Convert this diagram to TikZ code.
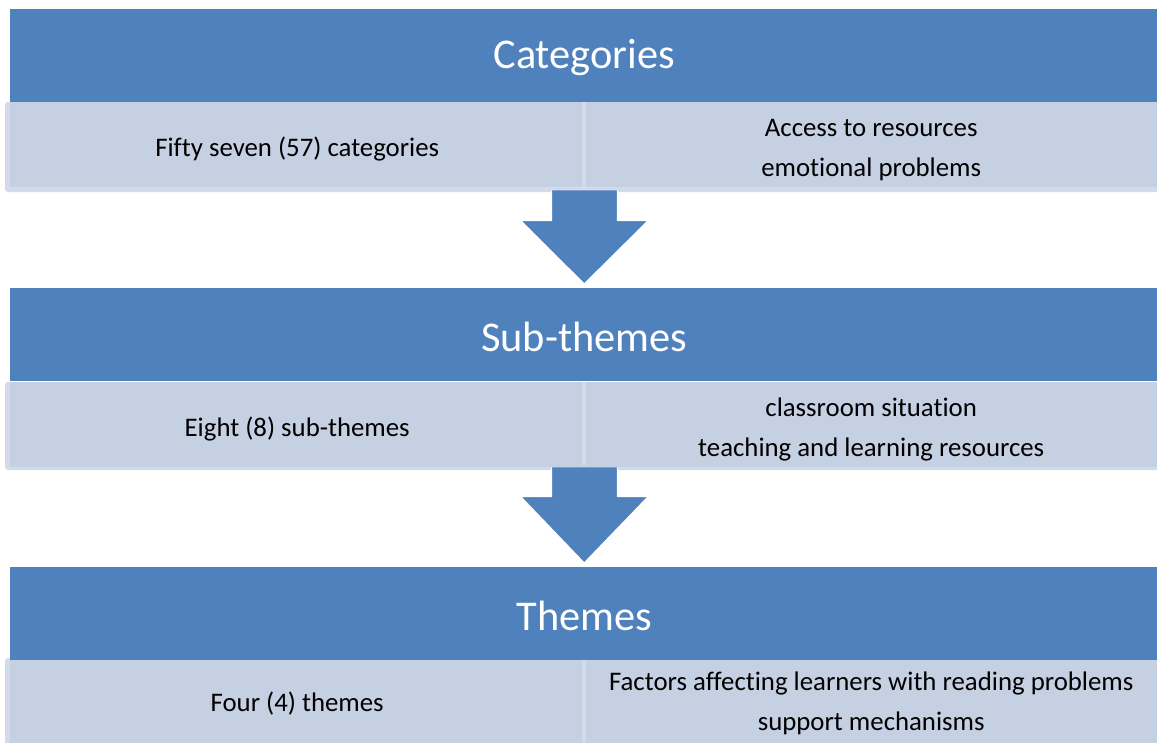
\documentclass[tikz,border=0pt]{standalone}
\usepackage{fontspec}
\setmainfont{Carlito}
\newfontfamily\bodyfont[Ligatures=CommonOff]{Carlito}
\usetikzlibrary{calc}
\definecolor{hdrblue}{HTML}{4F81BD}
\definecolor{paneblue}{HTML}{C5D0E3}
\definecolor{paneedge}{HTML}{D3DBEA}
\tikzset{
  header/.style={fill=hdrblue, anchor=north west, inner sep=0pt,
    minimum width=1148pt, minimum height=93pt},
  headtext/.style={text=white, inner sep=0pt, font={\fontsize{42.4}{50}\selectfont}},
  pane/.style={fill=paneblue, anchor=north west, inner sep=0pt,
    minimum width=574pt, minimum height=85pt},
  panetext/.style={inner sep=0pt, align=center,
    font={\bodyfont\fontsize{26.8}{40}\selectfont}},
  panebg/.style={fill=paneedge, rounded corners=3pt},
  divider/.style={fill=paneedge},
  downarrow/.style={fill=hdrblue, draw=white, line width=1.2pt, line join=miter}
}
\begin{document}
\begin{tikzpicture}[x=1pt, y=-1pt]
  \useasboundingbox (0,0) rectangle (1157,742);
  \fill[white] (0,0) rectangle (1157,742);

  % --- Categories ---
  \fill[panebg] (5,102) rectangle (1170,192);
  \node[pane] (cl) at (10,102) {};
  \node[pane] (cr) at (584,102) {};
  \fill[divider] (582,102) rectangle (586,187);
  \node[header] (cat) at (10,9) {};
  \node[headtext] (catt) at ($(cat.center)+(0,2)$) {Categories};
  \node[panetext] (clt) at ($(cl.center)+(0,4)$) {Fifty seven (57) categories};
  \node[panetext] (crt) at ($(cr.center)+(0,5)$) {Access to resources\\emotional problems};

  % --- Sub-themes ---
  \fill[panebg] (5,382) rectangle (1170,470);
  \node[pane] (sl) at (10,382) {};
  \node[pane] (sr) at (584,382) {};
  \fill[divider] (582,382) rectangle (586,465);
  \node[header] (sub) at (10,288) {};
  \node[headtext] (subt) at ($(sub.center)+(0,2)$) {Sub-themes};
  \node[panetext] (slt) at ($(sl.center)+(0,4)$) {Eight (8) sub-themes};
  \node[panetext] (srt) at ($(sr.center)+(0,5)$) {classroom situation\\teaching and learning resources};

  % --- Themes ---
  \fill[panebg] (5,658) rectangle (1170,748);
  \node[pane] (tl) at (10,658) {};
  \node[pane] (tr) at (584,658) {};
  \fill[divider] (582,658) rectangle (586,743);
  \node[header] (thm) at (10,567) {};
  \node[headtext] (thmt) at ($(thm.center)+(0,2)$) {Themes};
  \node[panetext] (tlt) at ($(tl.center)+(0,3)$) {Four (4) themes};
  \node[panetext] (trt) at ($(tr.center)+(0,3)$) {Factors affecting learners with reading problems\\support mechanisms};

  % block arrows between stages
  \coordinate (a1) at ($(cl.south east)+(0,3)$);
  \coordinate (t1) at ($(sub.north)+(0,-4)$);
  \filldraw[downarrow] ($(a1)+(-33,0)$) -- ($(a1)+(-33,30)$) -- ($(a1)+(-64,30)$)
    -- (t1) -- ($(a1)+(64,30)$) -- ($(a1)+(33,30)$) -- ($(a1)+(33,0)$);

  \coordinate (a2) at ($(sl.south east)+(0,0)$);
  \coordinate (t2) at ($(thm.north)+(0,-4)$);
  \filldraw[downarrow] ($(a2)+(-33,0)$) -- ($(a2)+(-33,29)$) -- ($(a2)+(-64,29)$)
    -- (t2) -- ($(a2)+(64,29)$) -- ($(a2)+(33,29)$) -- ($(a2)+(33,0)$);
\end{tikzpicture}
\end{document}
